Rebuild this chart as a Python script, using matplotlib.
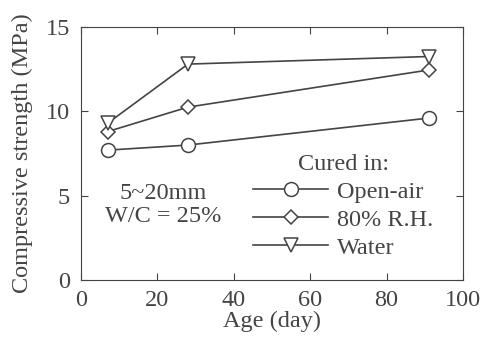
import matplotlib.pyplot as plt

age = [7, 28, 91]
open_air = [7.7, 8.0, 9.6]
rh80 = [8.8, 10.25, 12.45]
water = [9.3, 12.8, 13.25]

plt.rcParams['font.family'] = 'Liberation Serif'
plt.rcParams['font.size'] = 17.5
grey = '#444444'

fig = plt.figure(figsize=(4.89, 3.40), dpi=100)
ax = fig.add_axes([81/489, 1-280/340, (463-81)/489, (280-27)/340])

style = dict(color=grey, linewidth=1.2, markersize=10, markerfacecolor='white',
             markeredgecolor=grey, markeredgewidth=1.1)
ax.plot(age, open_air, marker='o', label='Open-air', **style)
ax.plot(age, rh80, marker='D', label='80% R.H.', **dict(style, markersize=7.5))
ax.plot(age, water, marker='v', label='Water', **style)

ax.set_xlim(0, 100)
ax.set_ylim(0, 15)
ax.set_xticks([0, 20, 40, 60, 80, 100])
ax.set_yticks([0, 5, 10, 15])
ax.tick_params(direction='in', top=True, right=True, colors=grey, length=5, labelcolor=grey)
ax.tick_params(axis='y', pad=8)
ax.tick_params(axis='x', pad=7)
for s in ax.spines.values():
    s.set_color(grey)
ax.set_xlabel('Age (day)', color=grey, labelpad=0)
ax.set_ylabel('Compressive strength (MPa)', color=grey, labelpad=9)

ax.text(21.5, 4.45, '5~20mm\nW/C = 25%', ha='center', va='center', color=grey,
        linespacing=1.1)

leg = ax.legend(title='Cured in:', loc='upper left', bbox_to_anchor=(253/489, 1-154/340),
                bbox_transform=fig.transFigure,
                frameon=False, handlelength=3.1, handletextpad=0.37,
                labelspacing=0.24, borderaxespad=0, borderpad=0)
for t in leg.get_texts():
    t.set_color(grey)
leg.get_title().set_color(grey)

fig.savefig('out.png', dpi=100)
